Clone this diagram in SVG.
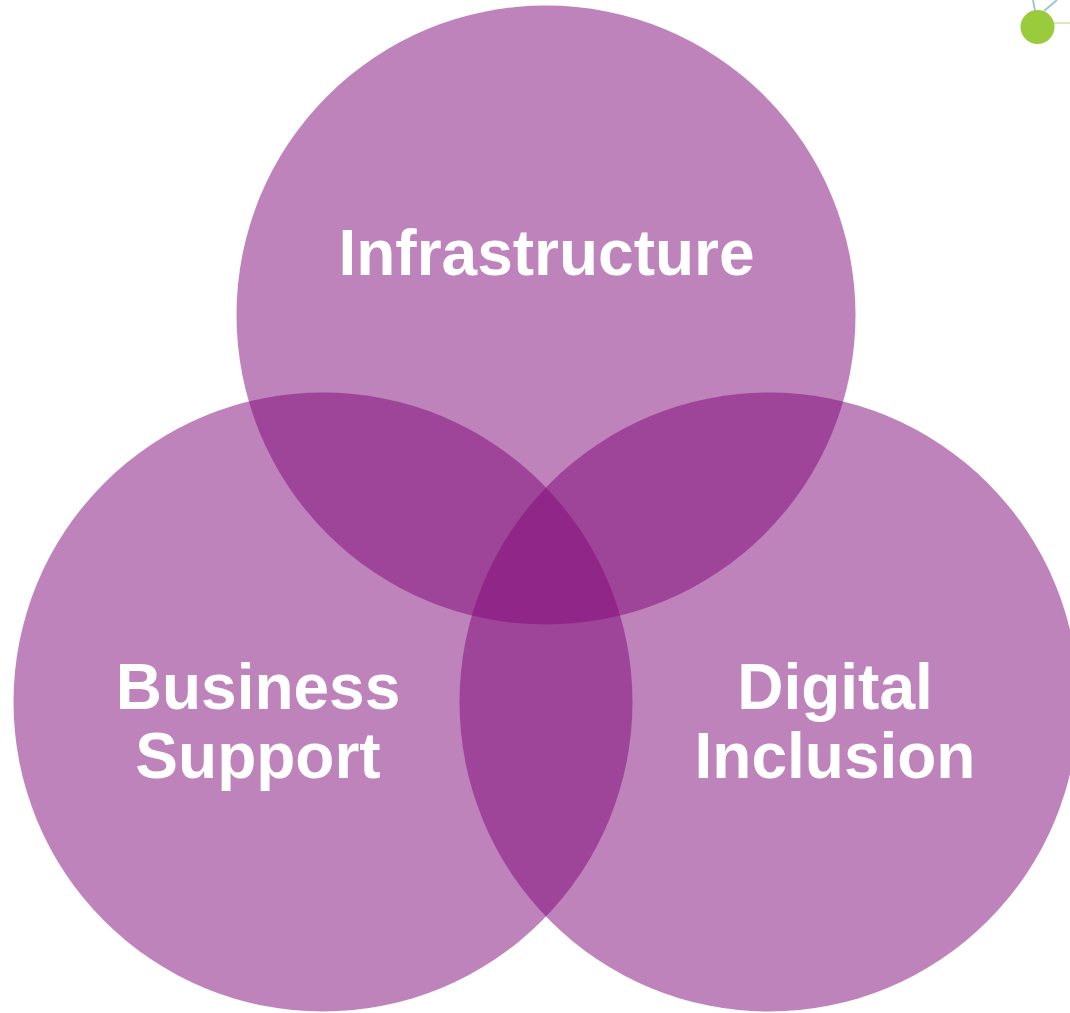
<svg xmlns="http://www.w3.org/2000/svg" width="1070" height="1013" viewBox="0 0 1070 1013">
<style>
.c{fill:#7f0778;fill-opacity:.5}
.t{font-family:"Liberation Sans",Arial,sans-serif;font-weight:700;font-size:64px;fill:#fff;text-anchor:middle}
</style>
<rect width="1070" height="1013" fill="#fff"/>
<g id="node-decoration">
<path d="M1033 0L1035 11M1044 11L1057 0" stroke="#9cc9d6" stroke-width="2" fill="none"/>
<path d="M1054 23L1070 23" stroke="#cfe3a0" stroke-width="1.5" fill="none"/>
<circle cx="1037.500" cy="27" r="17" fill="#9acb3c"/>
</g>
<g id="node-infrastructure"><circle class="c" cx="546" cy="315" r="309.500"/><text class="t" x="546.500" y="275">Infrastructure</text></g>
<g id="node-business-support"><circle class="c" cx="323" cy="702" r="309.500"/><text class="t" x="258" y="709">Business</text><text class="t" x="258" y="778">Support</text></g>
<g id="node-digital-inclusion"><circle class="c" cx="769" cy="702" r="309.500"/><text class="t" x="835" y="709">Digital</text><text class="t" x="835" y="778">Inclusion</text></g>
<g id="connectors"/>
</svg>
